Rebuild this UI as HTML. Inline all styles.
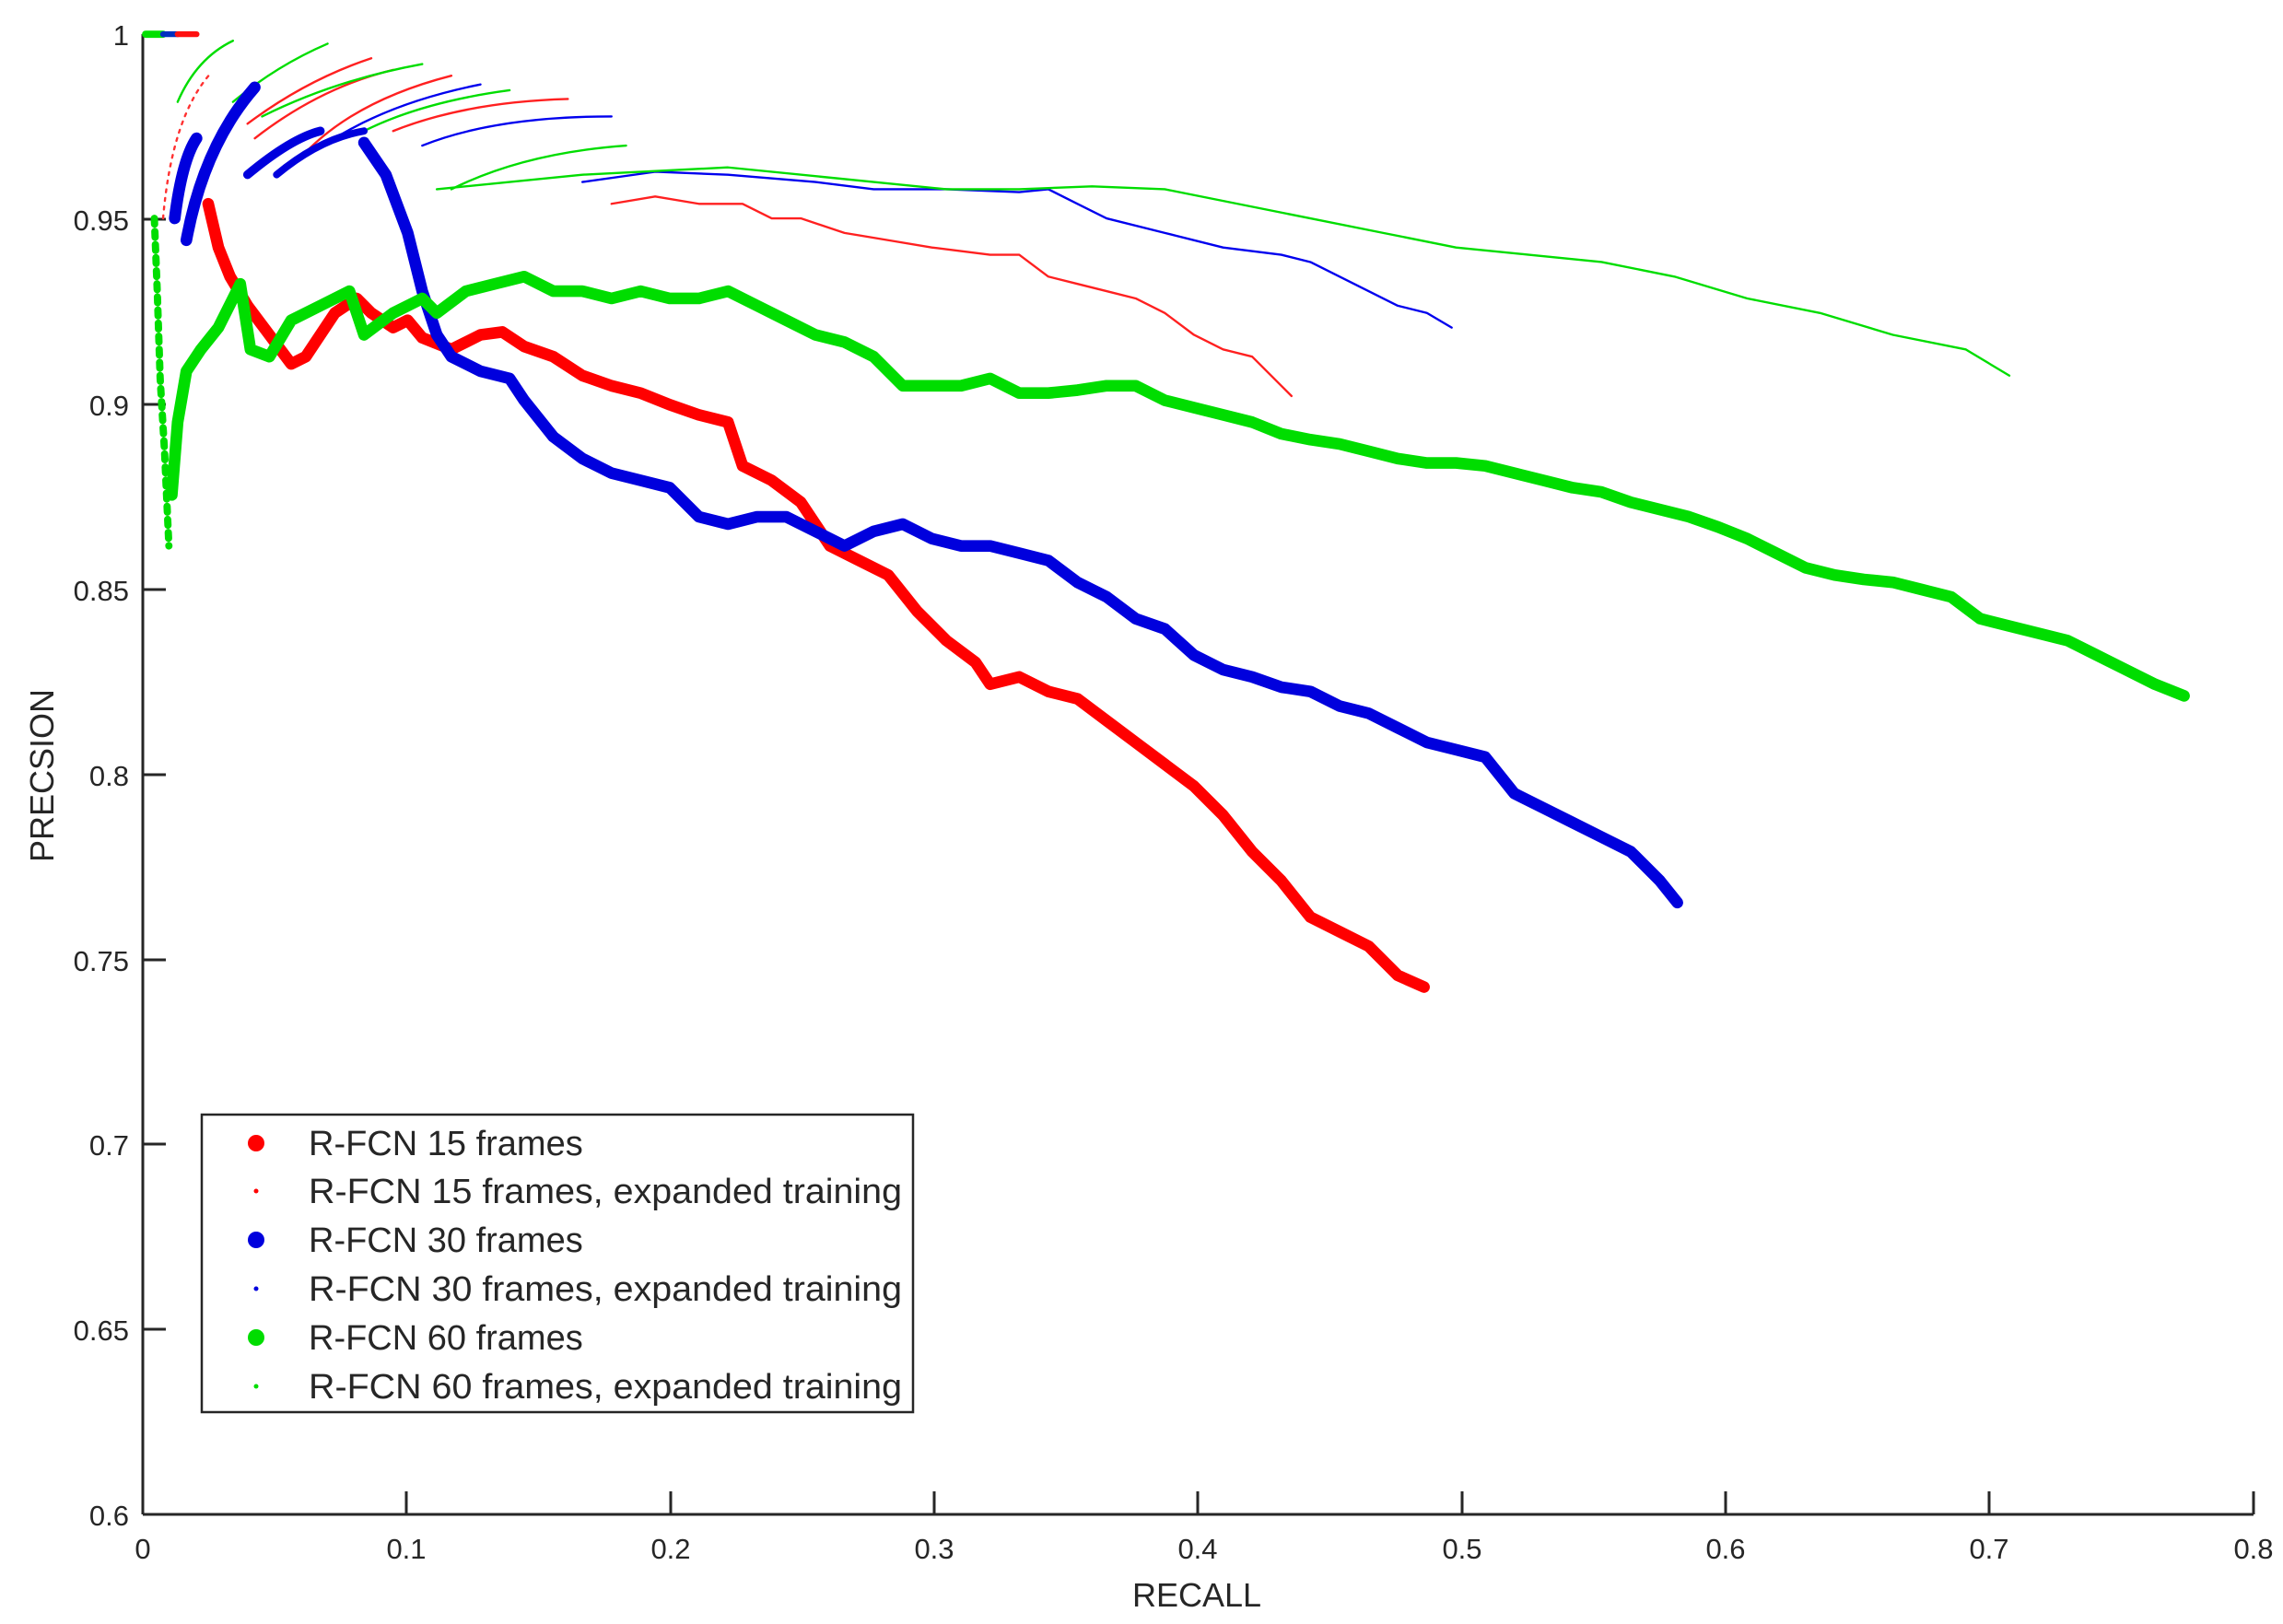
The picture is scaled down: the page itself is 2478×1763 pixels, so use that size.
<!DOCTYPE html>
<html><head><meta charset="utf-8"><style>
html,body{margin:0;padding:0;background:#fff;}
svg{display:block;}
text{font-family:"Liberation Sans",Arial,sans-serif;fill:#262626;}
</style></head><body>
<svg width="2478" height="1763" viewBox="0 0 2478 1763" xmlns="http://www.w3.org/2000/svg">
<rect width="2478" height="1763" fill="#fff"/>
<g stroke="#262626" stroke-width="3" fill="none">
<line x1="155" y1="37" x2="155" y2="1644"/>
<line x1="155" y1="1644" x2="2446" y2="1644"/>
<line x1="441" y1="1644" x2="441" y2="1619"/>
<line x1="728" y1="1644" x2="728" y2="1619"/>
<line x1="1014" y1="1644" x2="1014" y2="1619"/>
<line x1="1300" y1="1644" x2="1300" y2="1619"/>
<line x1="1587" y1="1644" x2="1587" y2="1619"/>
<line x1="1873" y1="1644" x2="1873" y2="1619"/>
<line x1="2159" y1="1644" x2="2159" y2="1619"/>
<line x1="2446" y1="1644" x2="2446" y2="1619"/>
<line x1="155" y1="238" x2="180" y2="238"/>
<line x1="155" y1="439" x2="180" y2="439"/>
<line x1="155" y1="640" x2="180" y2="640"/>
<line x1="155" y1="841" x2="180" y2="841"/>
<line x1="155" y1="1042" x2="180" y2="1042"/>
<line x1="155" y1="1242" x2="180" y2="1242"/>
<line x1="155" y1="1443" x2="180" y2="1443"/>
</g>
<g font-size="31" text-anchor="middle">
<text x="155" y="1692">0</text><text x="441" y="1692">0.1</text><text x="728" y="1692">0.2</text>
<text x="1014" y="1692">0.3</text><text x="1300" y="1692">0.4</text><text x="1587" y="1692">0.5</text>
<text x="1873" y="1692">0.6</text><text x="2159" y="1692">0.7</text><text x="2446" y="1692">0.8</text>
</g>
<g font-size="31" text-anchor="end">
<text x="140" y="49">1</text><text x="140" y="250">0.95</text><text x="140" y="451">0.9</text>
<text x="140" y="652">0.85</text><text x="140" y="853">0.8</text><text x="140" y="1054">0.75</text>
<text x="140" y="1254">0.7</text><text x="140" y="1455">0.65</text><text x="140" y="1656">0.6</text>
</g>
<text x="1299" y="1744" font-size="36" text-anchor="middle">RECALL</text>
<text transform="translate(58,842) rotate(-90)" font-size="36" text-anchor="middle">PRECSION</text>

<g transform="scale(1.5804)" fill="none" stroke-linecap="round" stroke-linejoin="round">
<line x1="100" y1="23.5" x2="112" y2="23.5" stroke="#00e000" stroke-width="5"/>
<line x1="112" y1="23.5" x2="122" y2="23.5" stroke="#0030c0" stroke-width="4"/>
<line x1="122" y1="23.5" x2="135" y2="23.5" stroke="#ff1010" stroke-width="4"/>
<g stroke-width="1.5">
<path d="M112,150 Q118,80 145,50" stroke="#ff3030" stroke-dasharray="2,4"/>
<path d="M122,70 Q135,40 160,28" stroke="#00dd00"/>
<path d="M160,70 Q190,45 225,30" stroke="#00dd00"/>
<path d="M170,85 Q210,55 255,40" stroke="#ff2020"/>
<path d="M175,95 Q220,60 270,48" stroke="#ff2020"/>
<path d="M180,80 Q230,55 290,44" stroke="#00dd00"/>
<path d="M205,110 Q240,70 310,52" stroke="#ff2020"/>
<path d="M230,95 Q270,70 330,58" stroke="#0000ee"/>
<path d="M250,90 Q290,70 350,62" stroke="#00dd00"/>
<path d="M270,90 Q320,70 390,68" stroke="#ff2020"/>
<path d="M290,100 Q340,80 420,80" stroke="#0000ee"/>
<path d="M310,130 Q360,105 430,100" stroke="#00dd00"/>
</g>
<g stroke="#0000dd" stroke-width="8">
<path d="M120,150 Q125,110 135,95"/>
<path d="M128,165 Q140,100 175,60"/>
<path d="M170,120 Q200,95 220,90" stroke-width="6"/>
<path d="M190,120 Q220,95 250,90" stroke-width="5"/>
</g>
<polyline stroke="#ff2020" stroke-width="1.5" points="420,140 450,135 480,140 510,140 530,150 550,150 580,160 610,165 640,170 680,175 700,175 720,190 740,195 760,200 780,205 800,215 820,230 840,240 860,245 880,265 887,272"/>
<polyline stroke="#0000ee" stroke-width="1.5" points="400,125 450,118 500,120 560,125 600,130 650,130 700,132 720,130 740,140 760,150 800,160 840,170 880,175 900,180 930,195 960,210 980,215 997,225"/>
<polyline stroke="#00dd00" stroke-width="1.5" points="300,130 400,120 500,115 600,125 650,130 700,130 750,128 800,130 850,140 900,150 950,160 1000,170 1050,175 1100,180 1150,190 1200,205 1250,215 1300,230 1350,240 1380,258"/>
<polyline stroke="#ff0000" stroke-width="8" points="143,140 150,170 158,190 170,210 185,230 200,250 210,245 230,215 245,205 255,215 270,225 280,220 290,232 310,240 330,230 345,228 360,238 380,245 400,258 420,265 440,270 460,278 480,285 500,290 510,320 530,330 550,345 570,375 590,385 610,395 630,420 650,440 670,455 680,470 700,465 720,475 740,480 760,495 780,510 800,525 820,540 840,560 860,585 880,605 900,630 920,640 940,650 960,670 978,678"/>
<polyline stroke="#0000dd" stroke-width="8" points="250,98 265,120 280,160 290,200 300,230 310,245 330,255 350,260 360,275 380,300 400,315 420,325 440,330 460,335 480,355 500,360 520,355 540,355 560,365 580,375 600,365 620,360 640,370 660,375 680,375 700,380 720,385 740,400 760,410 780,425 800,432 820,450 840,460 860,465 880,472 900,475 920,485 940,490 960,500 980,510 1000,515 1020,520 1040,545 1060,555 1080,565 1100,575 1120,585 1140,605 1152,620"/>
<polyline stroke="#00dd00" stroke-width="5" stroke-dasharray="4,5" points="106,150 108,200 110,260 113,310 116,375"/>
<polyline stroke="#00dd00" stroke-width="8" points="118,340 122,290 128,255 138,240 150,225 165,195 172,240 185,245 200,220 220,210 240,200 250,230 270,215 290,205 300,215 320,200 340,195 360,190 380,200 400,200 420,205 440,200 460,205 480,205 500,200 520,210 540,220 560,230 580,235 600,245 620,265 640,265 660,265 680,260 700,270 720,270 740,268 760,265 780,265 800,275 820,280 840,285 860,290 880,298 900,302 920,305 940,310 960,315 980,318 1000,318 1020,320 1040,325 1060,330 1080,335 1100,338 1120,345 1140,350 1160,355 1180,362 1200,370 1220,380 1240,390 1260,395 1280,398 1300,400 1320,405 1340,410 1360,425 1380,430 1400,435 1420,440 1440,450 1460,460 1480,470 1500,478"/>
</g>

<rect x="219" y="1210" width="772" height="323" fill="#fff" stroke="#262626" stroke-width="2.5"/>
<circle cx="278" cy="1241" r="9" fill="#ff0000"/>
<circle cx="278" cy="1293" r="2.5" fill="#ff0000"/>
<circle cx="278" cy="1346" r="9" fill="#0000dd"/>
<circle cx="278" cy="1399" r="2.5" fill="#0000dd"/>
<circle cx="278" cy="1452" r="9" fill="#00dd00"/>
<circle cx="278" cy="1505" r="2.5" fill="#00dd00"/>
<g font-size="38" fill="#000">
<text x="335" y="1254">R-FCN 15 frames</text>
<text x="335" y="1306" textLength="644" lengthAdjust="spacingAndGlyphs">R-FCN 15 frames, expanded training</text>
<text x="335" y="1359">R-FCN 30 frames</text>
<text x="335" y="1412" textLength="644" lengthAdjust="spacingAndGlyphs">R-FCN 30 frames, expanded training</text>
<text x="335" y="1465">R-FCN 60 frames</text>
<text x="335" y="1518" textLength="644" lengthAdjust="spacingAndGlyphs">R-FCN 60 frames, expanded training</text>
</g>
</svg>
</body></html>
